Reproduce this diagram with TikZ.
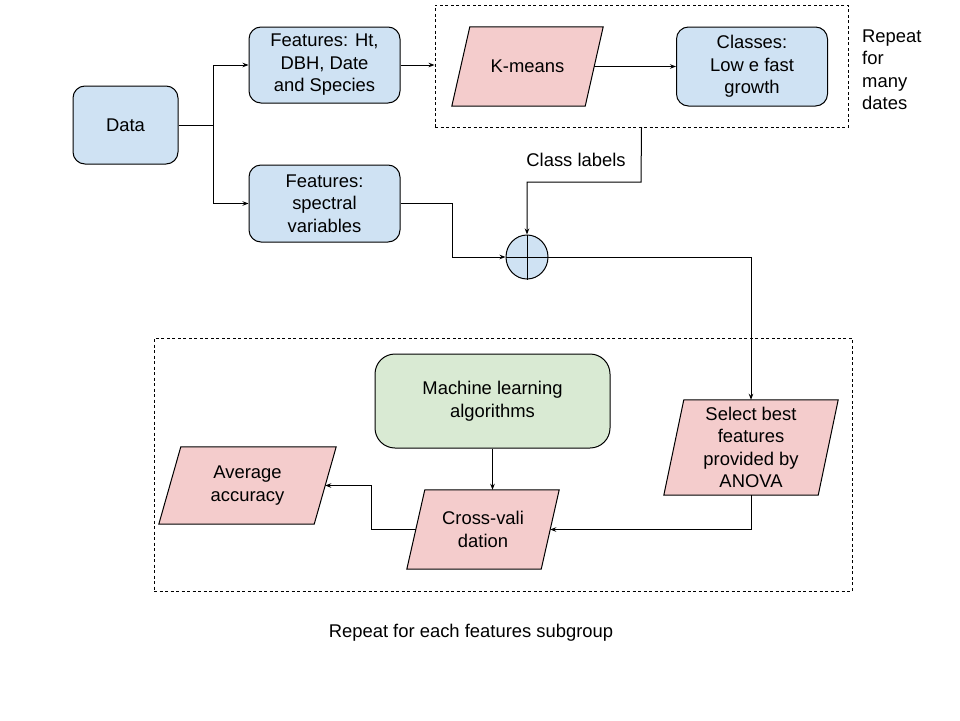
\documentclass[tikz,border=0pt]{standalone}
\usepackage{fontspec}
\setmainfont{Liberation Sans}
\usetikzlibrary{arrows.meta,shapes.geometric,backgrounds}

\definecolor{boxblue}{HTML}{CFE2F3}
\definecolor{boxpink}{HTML}{F4CCCC}
\definecolor{boxgreen}{HTML}{D9EAD3}

\tikzset{
  txt/.style={font=\fontsize{18.4}{22.5}\selectfont, align=center, inner sep=0pt},
  roundbox/.style={txt, draw, line width=1pt, rounded corners=12pt, fill=boxblue},
  parabox/.style={txt},
  dashbox/.style={draw, line width=0.9pt, dash pattern=on 3pt off 2.5pt, inner sep=0pt},
  link/.style={line width=1pt},
  arr/.style={link, -{Stealth[length=6pt,width=4.5pt]}},
  paraedge/.style={draw, line width=1pt},
}

% parallelogram behind a named node: top edge shifted right by the slant
\newcommand{\paraback}[3]{%
  \begin{pgfonlayer}{background}
    \path[paraedge, fill=#3] (#1.south west) -- ([xshift=-#2pt]#1.south east)
      -- (#1.north east) -- ([xshift=#2pt]#1.north west) -- cycle;
  \end{pgfonlayer}}

\begin{document}
\begin{tikzpicture}[x=1pt, y=-1pt]
  \useasboundingbox (0,0) rectangle (960,720);
  \begin{pgfonlayer}{background}
    \fill[white] (0,0) rectangle (960,720);
  \end{pgfonlayer}

  % upper part
  \node[roundbox, minimum width=105pt, minimum height=78pt] (data) at (125.5,125) {Data};
  \node[roundbox, minimum width=151pt, minimum height=76pt] (fh) at (324.5,65) {Features: Ht,\\DBH, Date\\and Species};
  \node[roundbox, minimum width=151pt, minimum height=77pt] (fs) at (324.5,203.5) {Features:\\spectral\\variables};

  \node[dashbox, minimum width=413pt, minimum height=122pt] (tb) at (641.5,66) {};
  \node[parabox, minimum width=151pt, minimum height=79pt] (km) at (527.5,66.5) {K-means};
  \paraback{km}{18}{boxpink}
  \node[roundbox, minimum width=151pt, minimum height=79pt] (cls) at (752,66.5) {Classes:\\Low e fast\\growth};
  \node[txt, anchor=west, align=left] (rep) at (862,70) {Repeat\\for\\many\\dates};

  \node[ellipse, draw, line width=1pt, fill=boxblue, minimum width=42pt, minimum height=44pt, inner sep=0pt] (cir) at (527,257) {};
  \draw[link] (cir.north) -- (cir.south);
  \draw[link] (cir.west) -- (cir.east);

  \node[txt] (cltxt) at (576,160) {Class labels};
  \coordinate (clbend) at (641,182);

  % lower part
  \node[dashbox, minimum width=698pt, minimum height=253pt] (bb) at (503,464.5) {};
  \node[roundbox, fill=boxgreen, rounded corners=20pt, minimum width=235pt, minimum height=94pt] (ml) at (492.5,401) {Machine learning\\algorithms};
  \node[parabox, minimum width=174pt, minimum height=95pt] (sel) at (751,447.5) {Select best\\features\\provided by\\ANOVA};
  \paraback{sel}{20}{boxpink}
  \node[parabox, minimum width=177pt, minimum height=77pt] (avg) at (247.5,485.5) {Average\\accuracy};
  \paraback{avg}{22}{boxpink}
  \node[parabox, minimum width=152pt, minimum height=79pt] (cv) at (483,529.5) {Cross-vali\\dation};
  \paraback{cv}{18}{boxpink}

  \node[txt] (reptxt) at (471,633) {Repeat for each features subgroup};

  % connectors
  \draw[arr] (data.east) -- ++(35,0) |- (fh.west);
  \draw[arr] (data.east) -- ++(35,0) |- (fs.west);
  \draw[arr] (fh.east) -- (fh.east -| tb.west);
  \draw[arr] ([xshift=-9pt]km.east) -- (cls.west);
  \draw[arr] (tb.south) -- (clbend) -| (cir.north);
  \draw[arr] (fs.east) -- ++(52,0) |- (cir.west);
  \draw[arr] (cir.east) -| (sel.north);
  \draw[arr] (sel.south) |- ([xshift=-9pt]cv.east);
  \draw[arr] (ml.south) -- (ml.south |- cv.north);
  \draw[arr] ([xshift=9pt]cv.west) -- ++(-44,0) |- ([xshift=-11pt]avg.east);
\end{tikzpicture}
\end{document}
